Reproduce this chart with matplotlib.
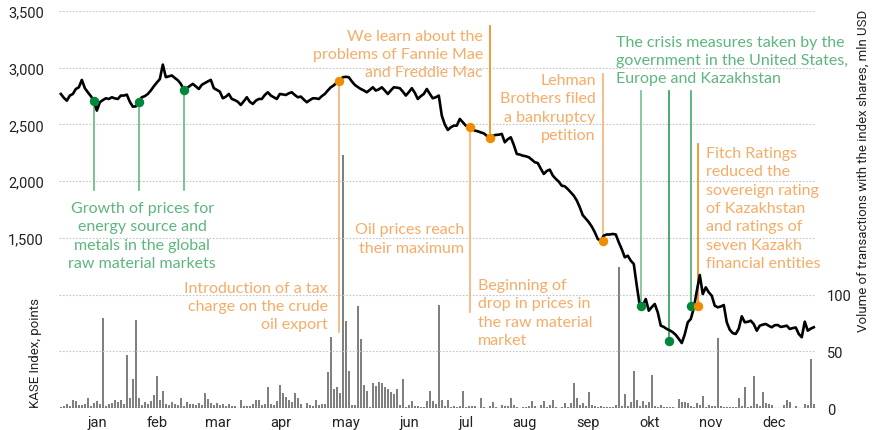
import numpy as np
import matplotlib
matplotlib.use("Agg")
import matplotlib.pyplot as plt
from matplotlib.ticker import FuncFormatter

# KASE index, points, one value per trading day of 2008
kase_index = [
    2769, 2735, 2710, 2755, 2769, 2813, 2828, 2893, 2820, 2784,
    2750, 2710, 2622, 2696, 2715, 2731, 2725, 2740, 2730, 2725,
    2755, 2755, 2763, 2700, 2657, 2660, 2702, 2740, 2750, 2769,
    2800, 2837, 2870, 2900, 3028, 2917, 2925, 2932, 2910, 2890,
    2858, 2805, 2820, 2840, 2858, 2835, 2813, 2850, 2865, 2880,
    2893, 2820, 2805, 2790, 2731, 2745, 2769, 2725, 2715, 2700,
    2672, 2705, 2740, 2700, 2681, 2710, 2725, 2725, 2760, 2784,
    2755, 2740, 2725, 2769, 2765, 2760, 2775, 2784, 2760, 2740,
    2746, 2720, 2696, 2715, 2731, 2730, 2725, 2750, 2769, 2800,
    2828, 2845, 2870, 2881, 2917, 2920, 2917, 2880, 2849, 2830,
    2813, 2800, 2784, 2805, 2828, 2799, 2810, 2828, 2800, 2769,
    2800, 2828, 2825, 2820, 2790, 2755, 2785, 2820, 2780, 2725,
    2750, 2769, 2813, 2770, 2731, 2740, 2755, 2578, 2500, 2452,
    2475, 2490, 2490, 2549, 2520, 2490, 2476, 2460, 2446, 2440,
    2430, 2422, 2400, 2378, 2400, 2408, 2410, 2417, 2343, 2370,
    2387, 2320, 2240, 2235, 2225, 2220, 2211, 2190, 2167, 2160,
    2110, 2064, 2090, 2102, 2050, 2020, 1996, 1960, 1955, 1930,
    1902, 1872, 1830, 1770, 1700, 1670, 1638, 1600, 1550, 1490,
    1476, 1520, 1530, 1530, 1535, 1530, 1461, 1400, 1329, 1343,
    1299, 1270, 1079, 902, 905, 961, 858, 890, 917, 843,
    726, 715, 697, 685, 668, 645, 610, 573, 650, 756,
    785, 880, 1030, 1173, 1005, 1064, 1020, 990, 902, 888,
    895, 908, 756, 690, 660, 653, 700, 809, 756, 760,
    770, 740, 682, 726, 735, 741, 725, 712, 730, 732,
    715, 720, 726, 697, 705, 710, 653, 624, 761, 682,
    700, 712,
]

# volume of transactions with the index shares, mln USD
volume = [
    1.1, 2.0, 3.5, 2.0, 7.3, 6.4, 2.9, 2.9, 3.8, 9.1,
    2.0, 4.4, 6.4, 3.8, 79, 2.0, 3.8, 4.7, 7.3, 5.6,
    7.3, 3.8, 47, 8.8, 26, 78, 8.8, 2.9, 5.6, 3.8,
    6.4, 11.5, 28, 7.3, 15, 3.8, 2.9, 5.6, 3.8, 2.9,
    8.8, 2.0, 5.6, 3.8, 3.5, 2.9, 4.1, 2.4, 13, 7.9,
    4.4, 2.4, 4.7, 2.9, 3.8, 1.5, 3.8, 1.5, 1.5, 0.4,
    7.3, 1.5, 1.5, 1.5, 3.8, 7.3, 7.3, 2.4, 3.8, 18.5,
    3.8, 2.4, 6.4, 20, 13, 9.7, 7.3, 5.6, 13, 8.8,
    3.8, 0.4, 4.7, 2.4, 1.5, 7.3, 2.4, 3.8, 3.8, 32,
    63, 17, 18.5, 13, 223, 77, 33, 2.4, 2.9, 90,
    61, 20, 15, 0.9, 22, 19.4, 23, 22, 18.5, 17,
    14, 12.3, 17, 2.4, 25.6, 0.6, 2.4, 6.2, 1.8, 1.8,
    0.6, 0.6, 6.2, 15, 6.2, 3.5, 91, 7, 1.8, 7,
    0.6, 1.8, 0.6, 1.8, 15, 0.9, 2.0, 1.5, 2.0, 0.3,
    8.8, 1.1, 0.3, 1.5, 5.6, 0.9, 0.3, 2.9, 2.0, 2.0,
    8.8, 2.9, 1.1, 0.3, 0.9, 1.1, 2.0, 6.4, 2.0, 0.3,
    2.9, 6.4, 1.1, 2.4, 7.3, 0.9, 0.3, 1.1, 4.7, 1.1,
    4.7, 22, 8.8, 2.9, 4.7, 1.8, 14, 2.9, 2.0, 1.1,
    1.8, 0.6, 1.1, 0.6, 1.1, 2.6, 124, 2.0, 12.3, 2.0,
    5.0, 33, 6.8, 2.0, 5.9, 2.9, 5.6, 29, 1.8, 1.1,
    2.6, 1.1, 1.1, 0.6, 0.6, 0.3, 7.7, 5.3, 5.3, 4.4,
    2.0, 1.1, 4.1, 2.9, 10.6, 0.6, 2.9, 2.0, 2.0, 62,
    2.0, 1.1, 0.9, 0.9, 1.1, 1.1, 8.8, 2.0, 18.5, 1.1,
    2.0, 28, 3.8, 2.0, 14, 4.7, 3.8, 2.9, 0.4, 0.4,
    0.4, 2.9, 7.3, 5.6, 0.4, 2.0, 0.4, 0.4, 3.8, 2.9,
    43, 3.8,
]

months = ['jan', 'feb', 'mar', 'apr', 'may', 'jun',
          'jul', 'aug', 'sep', 'okt', 'nov', 'dec']
month_pos = [12.1, 32.1, 52.4, 73.4, 95.1, 116.1,
             135.1, 154.4, 175.8, 196.1, 216.8, 237.8]

# events: (trading day, KASE value at the dot, end of the leader line, line colour)
green_events = [
    (11, 2710, 1926, '#62b982'),
    (26, 2702, 1926, '#62b982'),
    (41, 2805, 1926, '#62b982'),
    (193.3, 902, 2796, '#74c18f'),
    (202.9, 593, 2796, '#2e9a55'),
    (210, 902, 2796, '#46a96a'),
]
orange_events = [
    (92.8, 2881, 670, '#f6b174'),
    (136.4, 2476, 847, '#f6b174'),
    (143.1, 2378, 3369, '#ef8a12'),
    (180.7, 1476, 2946, '#f6b174'),
    (212.5, 902, 2328, '#ef8a12'),
]

GREEN_TXT = '#5cb67e'
ORANGE_TXT = '#f6ac66'

# (x, y, text, colour, alignment)
notes = [
    (27.1, 1521, 'Growth of prices for\nenergy source and\nmetals in the global\nraw material markets', GREEN_TXT, 'center'),
    (89.1, 900, 'Introduction of a tax\ncharge on the crude\noil export', ORANGE_TXT, 'right'),
    (140.7, 3122, 'We learn about the\nproblems of Fannie Mae\nand Freddie Mac', ORANGE_TXT, 'right'),
    (134.5, 1495, 'Oil prices reach\ntheir maximum', ORANGE_TXT, 'right'),
    (139.0, 842, 'Beginning of\ndrop in prices in\nthe raw material\nmarket', ORANGE_TXT, 'left'),
    (178.3, 2650, 'Lehman\nBrothers filed\na bankruptcy\npetition', ORANGE_TXT, 'right'),
    (185.0, 3069, 'The crisis measures taken by the\ngovernment in the United States,\nEurope and Kazakhstan', GREEN_TXT, 'left'),
    (215.1, 1764, 'Fitch Ratings\nreduced the\nsovereign rating\nof Kazakhstan\nand ratings of\nseven Kazakh\nfinancial entities', ORANGE_TXT, 'left'),
]

days = np.arange(len(kase_index))

fig = plt.figure(figsize=(8.76, 4.31), dpi=100)
ax = fig.add_axes([0.0674, 0.051, 0.8636, 0.921])
ax2 = ax.twinx()

# volume bars on the right axis
ax2.bar(np.arange(len(volume)), volume, width=0.68, color='#808080', zorder=1)
ax2.set_ylim(0, 350)
ax2.set_yticks([0, 50, 100])
ax2.tick_params(axis='y', length=0, pad=8, labelsize=10.5, labelcolor='#222222')
for lab in ax2.get_yticklabels():
    lab.set_fontfamily('Roboto')

ax.set_zorder(ax2.get_zorder() + 1)
ax.patch.set_visible(False)

ax.set_xlim(-0.6, len(kase_index) - 0.4)
ax.set_ylim(0, 3500)
ax.set_yticks(np.arange(500, 3501, 500))
ax.yaxis.set_major_formatter(FuncFormatter(lambda v, p: '{:,.0f}'.format(v) if v >= 1500 else ''))
ax.grid(axis='y', color='#c4c4c4', linestyle=(0, (1.5, 1.5)), linewidth=0.8)
ax.tick_params(axis='y', length=0, pad=11, labelsize=10.5, labelcolor='#222222')
ax.set_xticks(month_pos)
ax.set_xticklabels(months)
ax.tick_params(axis='x', length=0, pad=5, labelsize=10.5, labelcolor='#222222')
for lab in ax.get_yticklabels() + ax.get_xticklabels():
    lab.set_fontfamily('Roboto')
ax.axhline(0, color='#555555', linewidth=0.9, linestyle=(0, (1, 1)), zorder=2)

for a in (ax, ax2):
    for s in a.spines.values():
        s.set_visible(False)

# leader lines and dots
for x, y, end, c in green_events:
    ax.plot([x, x], [y, end], color=c, linewidth=1.2, zorder=3)
for x, y, end, c in orange_events:
    ax.plot([x, x], [y, end], color=c, linewidth=1.2, zorder=3)

ax.plot(days, kase_index, color='black', linewidth=1.9, zorder=4)

for x, y, end, c in green_events:
    ax.plot(x, y, 'o', color='#00873c', markersize=5.8, zorder=5)
for x, y, end, c in orange_events:
    ax.plot(x, y, 'o', color='#f08c00', markersize=5.8, zorder=5)

for x, y, txt, c, ha in notes:
    ax.text(x, y, txt, color=c, ha=ha, va='center', fontsize=11.5,
            family='Lato', linespacing=1.4, zorder=6, clip_on=False)

fig.text(35 / 876, 1 - 408 / 431, 'KASE Index, points', rotation=90,
         ha='center', va='bottom', fontsize=9.5, family='Roboto',
         color='#222222')
fig.text(863 / 876, 1 - 10 / 431, 'Volume of transactions with the index shares, mln USD',
         rotation=90, ha='center', va='top', fontsize=9.5,
         family='Roboto', color='#222222')

fig.savefig('out.png', dpi=100)
plt.close(fig)
